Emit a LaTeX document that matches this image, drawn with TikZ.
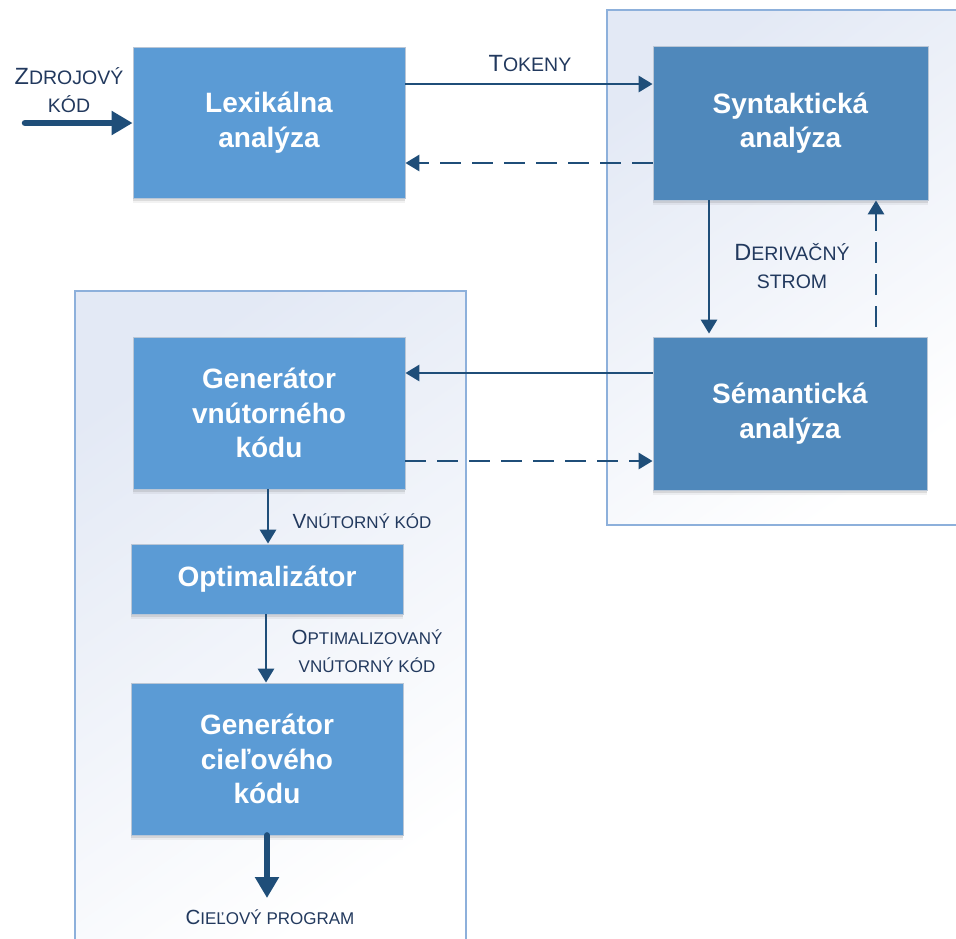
\documentclass[tikz,border=0pt]{standalone}
\usepackage{fontspec}
\setmainfont{Liberation Sans}
\usetikzlibrary{arrows.meta,shadows}
\definecolor{boxA}{HTML}{5B9BD5}
\definecolor{boxB}{HTML}{4F88BB}
\definecolor{arrowc}{HTML}{1F4E79}
\definecolor{lblc}{HTML}{22395E}
\definecolor{contTop}{HTML}{E3E9F5}
\definecolor{contBorder}{HTML}{8DB0DB}
\definecolor{boxBorder}{HTML}{B9C6D6}
\newcommand\capTop[1]{{\fontsize{23.5}{28}\selectfont #1}}
\newcommand\capLow[1]{{\fontsize{20.5}{28}\selectfont #1}}
\begin{document}
\begin{tikzpicture}[x=1pt,y=-1pt,
  procbox/.style={rectangle, fill=#1, draw=boxBorder, line width=0.8pt, text=white,
    font=\bfseries\fontsize{28}{34.5}\selectfont, align=center, inner sep=0pt,
    drop shadow={shadow xshift=0pt, shadow yshift=-2.5pt, opacity=0.09, fill=black},
    drop shadow={shadow xshift=0pt, shadow yshift=-4.5pt, opacity=0.05, fill=black}},
  container/.style={draw=contBorder, line width=1.2pt, top color=contTop, bottom color=white, shading angle=35},
  tlbl/.style={text=lblc, font=\fontsize{19.5}{28}\selectfont, align=center, inner sep=0pt},
  llbl/.style={text=lblc, font=\fontsize{17}{28}\selectfont, align=center, inner sep=0pt},
  arr/.style={draw=arrowc, line width=2.9pt, -{Triangle[length=14pt,width=16pt]}},
  darr/.style={arr, dash pattern=on 21pt off 11pt},
  bigarr/.style={draw=arrowc, line width=6.5pt, line cap=round, -{Triangle[length=21pt,width=23pt]}}
]
\useasboundingbox (0,0) rectangle (956,938);
\clip (0,0) rectangle (956,938);
\fill[white] (0,0) rectangle (956,938);

% containers
\shade[container] (607,10) rectangle (970,525);
\shade[container] (75,291) rectangle (466,950);

% boxes
\node[procbox=boxA, minimum width=272pt, minimum height=151pt] (lex) at (269,122.5) {Lexikálna\\analýza};
\node[procbox=boxB, minimum width=275pt, minimum height=154pt] (syn) at (790.5,123) {Syntaktická\\analýza};
\node[procbox=boxB, minimum width=274pt, minimum height=153pt] (sem) at (790,413.5) {Sémantická\\analýza};
\node[procbox=boxA, minimum width=272pt, minimum height=152pt] (gvk) at (269,413) {Generátor\\vnútorného\\kódu};
\node[procbox=boxA, minimum width=272pt, minimum height=70pt] (opt) at (267,579) {Optimalizátor};
\node[procbox=boxA, minimum width=272pt, minimum height=152pt] (gck) at (267,759) {Generátor\\cieľového\\kódu};

% free ends
\coordinate (src) at (25,123);
\coordinate (out) at (267,898);

% labels
\node[tlbl] (lsrc) at (69,90) {\capTop{Z}DROJOVÝ\\KÓD};
\node[tlbl] (ltok) at (530,64) {\capTop{T}OKENY};
\node[tlbl] (lder) at (792,266) {\capTop{D}ERIVAČNÝ\\STROM};
\node[llbl] (lvk) at (362,521) {\capLow{V}NÚTORNÝ KÓD};
\node[llbl] (lopt) at (367,651) {\capLow{O}PTIMALIZOVANÝ\\VNÚTORNÝ KÓD};
\node[llbl] (lout) at (270,917) {\capLow{C}IEĽOVÝ PROGRAM};

% connectors
\draw[bigarr] (src) -- (src -| lex.west);
\draw[arr] (lex.east |- 0,84) -- (syn.west |- 0,84);
\draw[darr] (syn.west |- 0,163) -- (lex.east |- 0,163);
\draw[arr, shorten >=3pt] (syn.south -| 709,0) -- (sem.north -| 709,0);
\draw[darr, shorten <=10pt] (sem.north -| 876,0) -- (syn.south -| 876,0);
\draw[arr] (sem.west |- 0,373) -- (gvk.east |- 0,373);
\draw[darr] (gvk.east |- 0,461) -- (sem.west |- 0,461);
\draw[arr] (gvk.south -| 268,0) -- (opt.north -| 268,0);
\draw[arr] (opt.south -| 266,0) -- (gck.north -| 266,0);
\draw[bigarr] (gck.south -| out) -- (out);
\end{tikzpicture}
\end{document}
